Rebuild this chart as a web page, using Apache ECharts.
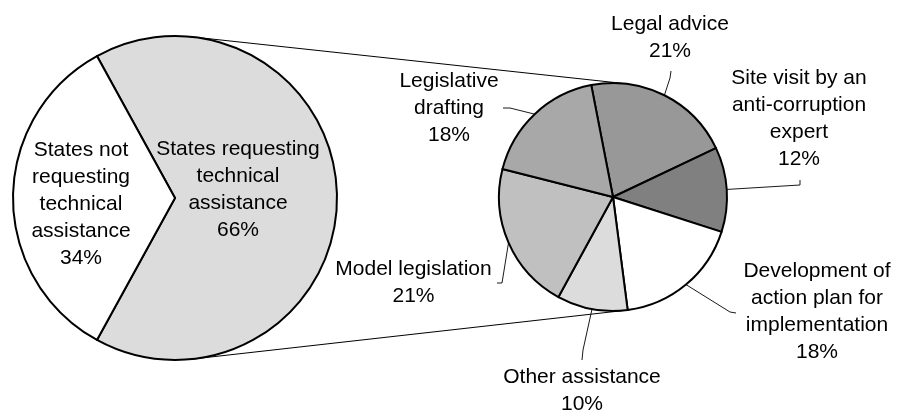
<!DOCTYPE html>
<html>
<head>
<meta charset="utf-8">
<script src="https://cdn.jsdelivr.net/npm/echarts@6/dist/echarts.min.js"></script>
<style>
  html, body { margin: 0; padding: 0; background: #fff; }
  #chart { width: 897px; height: 415px; }
</style>
</head>
<body>
<div id="chart"></div>
<script>
// Share of States asking for technical assistance
const mainNames = ['States requesting\ntechnical\nassistance', 'States not\nrequesting\ntechnical\nassistance'];
const mainValues = [66, 34];

// Breakdown of the kind of assistance requested
const detailNames = [
  'Legal advice',
  'Site visit by an\nanti-corruption\nexpert',
  'Development of\naction plan for\nimplementation',
  'Other assistance',
  'Model legislation',
  'Legislative\ndrafting'
];
const detailValues = [21, 12, 18, 10, 21, 18];

// Fills
const mainColors = ['#dcdcdc', '#ffffff'];
const detailColors = ['#989898', '#808080', '#ffffff', '#dcdcdc', '#c0c0c0', '#a8a8a8'];

// Pie geometry (pixels)
const mainCenter = [175, 198], mainR = 162, mainStart = 118.8;
const detailCenter = [613, 197], detailR = 114, detailStart = 101;

// Label anchors for the main pie, relative to its centre
const mainLabelOffset = [[63, -8], [-94, 6.5]];

// Label anchors and leader-line bends for the breakdown pie
const detailLabelPos = [[670, 38], [799, 118.5], [817, 311.5], [582, 391], [413.5, 283], [449, 108]];
const detailLeaderBend = [[[670, 78], [671, 71]], [[800, 185], [800, 180]], [[730, 312], [736, 313]],
                          [[583, 350], [582, 360]], [[502, 283], [497, 283]], [[510, 108], [503, 108]]];

const FONT = '"Liberation Sans", Arial, sans-serif';

// Mid angle (degrees, counter-clockwise from +x) of each breakdown slice
const detailTotal = detailValues.reduce((a, b) => a + b, 0);
const detailMid = [];
{
  let acc = 0;
  detailValues.forEach(v => {
    detailMid.push(detailStart - (acc + v / 2) / detailTotal * 360);
    acc += v;
  });
}

// External tangent lines joining the two pies
function tangentLines() {
  const dx = detailCenter[0] - mainCenter[0], dy = detailCenter[1] - mainCenter[1];
  const d = Math.hypot(dx, dy);
  const ux = dx / d, uy = dy / d;
  const phi = Math.acos((mainR - detailR) / d);
  const lines = [];
  [-phi, phi].forEach(a => {
    const nx = Math.cos(a) * ux - Math.sin(a) * uy;
    const ny = Math.sin(a) * ux + Math.cos(a) * uy;
    lines.push({
      type: 'line',
      z: 0,
      shape: {
        x1: mainCenter[0] + mainR * nx, y1: mainCenter[1] + mainR * ny,
        x2: detailCenter[0] + detailR * nx, y2: detailCenter[1] + detailR * ny
      },
      style: { stroke: '#000', lineWidth: 1 }
    });
  });
  return lines;
}

const chart = echarts.init(document.getElementById('chart'), null, { renderer: 'canvas' });

chart.setOption({
  animation: false,
  backgroundColor: '#ffffff',
  graphic: tangentLines(),
  series: [
    {
      type: 'pie',
      center: mainCenter,
      radius: [0, mainR],
      startAngle: mainStart,
      clockwise: true,
      avoidLabelOverlap: false,
      itemStyle: { borderColor: '#000', borderWidth: 2 },
      label: {
        show: true,
        position: 'inside',
        color: '#000',
        fontFamily: FONT,
        fontSize: 21,
        lineHeight: 27,
        formatter: p => p.name + '\n' + p.value + '%'
      },
      labelLine: { show: false },
      labelLayout: p => ({
        x: mainCenter[0] + mainLabelOffset[p.dataIndex][0],
        y: mainCenter[1] + mainLabelOffset[p.dataIndex][1],
        align: 'center',
        verticalAlign: 'middle'
      }),
      emphasis: { disabled: true },
      data: mainNames.map((n, i) => ({ name: n, value: mainValues[i], itemStyle: { color: mainColors[i] } }))
    },
    {
      type: 'pie',
      center: detailCenter,
      radius: [0, detailR],
      startAngle: detailStart,
      clockwise: true,
      avoidLabelOverlap: false,
      itemStyle: { borderColor: '#000', borderWidth: 2 },
      label: {
        show: true,
        position: 'outside',
        color: '#000',
        fontFamily: FONT,
        fontSize: 21,
        lineHeight: 27,
        formatter: p => p.name + '\n' + p.value + '%'
      },
      labelLine: { show: true, lineStyle: { color: '#1a1a1a', width: 1 } },
      labelLayout: p => {
        const i = p.dataIndex;
        const a = detailMid[i] * Math.PI / 180;
        const start = [detailCenter[0] + detailR * Math.cos(a), detailCenter[1] - detailR * Math.sin(a)];
        return {
          x: detailLabelPos[i][0],
          y: detailLabelPos[i][1],
          align: 'center',
          verticalAlign: 'middle',
          labelLinePoints: [start, detailLeaderBend[i][0], detailLeaderBend[i][1]]
        };
      },
      emphasis: { disabled: true },
      data: detailNames.map((n, i) => ({ name: n, value: detailValues[i], itemStyle: { color: detailColors[i] } }))
    }
  ]
});
</script>
</body>
</html>
